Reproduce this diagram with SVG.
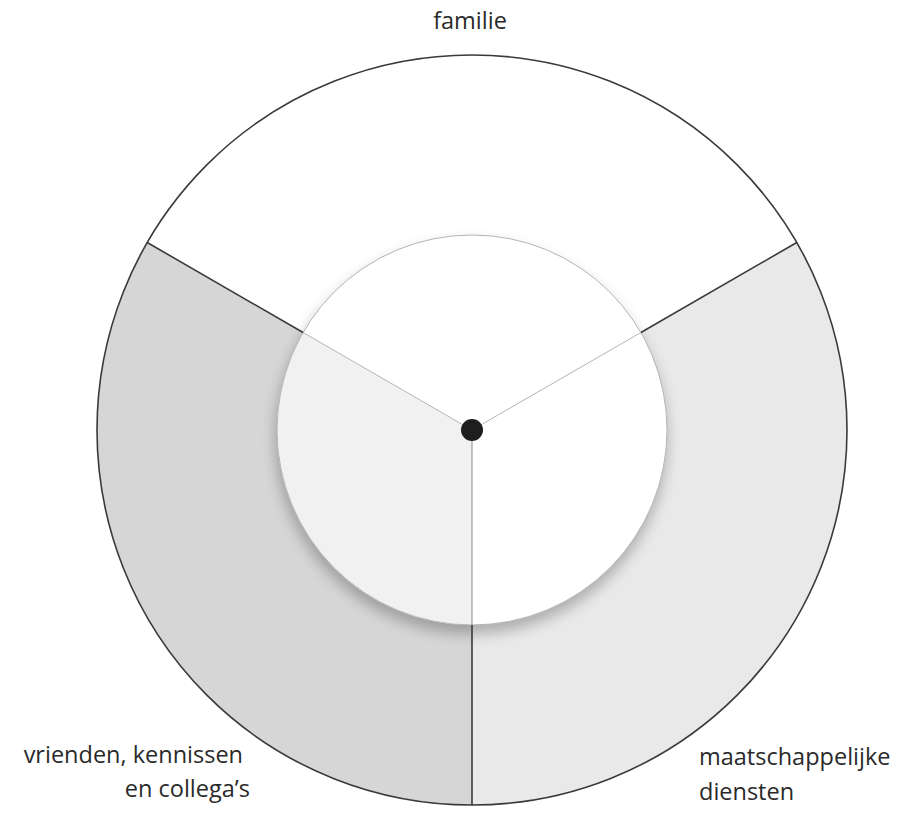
<svg xmlns="http://www.w3.org/2000/svg" width="903" height="820" viewBox="0 0 903 820">
<defs>
<filter id="sh" x="-20%" y="-20%" width="140%" height="140%"><feGaussianBlur stdDeviation="7"/></filter>
<style>
.lbl{font-family:"Open Sans","Noto Sans","Liberation Sans",sans-serif;font-size:23.5px;fill:#2a2a2a}
.ring{stroke:none}
.div{stroke:#3a3a3a;stroke-width:1.6;fill:none}
.inn{stroke:#b5b5b5;stroke-width:1;fill:none}
</style>
</defs>
<rect width="903" height="820" fill="#fff"/>
<g id="sector-familie">
<path class="ring" fill="#ffffff" d="M147.2,242.5 A375,375 0 0 1 796.8,242.5 L640.9,332.5 A195,195 0 0 0 303.1,332.5 Z"/>
<text class="lbl" x="470" y="29" text-anchor="middle">familie</text>
</g>
<g id="sector-vrienden">
<path class="ring" fill="#d6d6d6" d="M472,805 A375,375 0 0 1 147.2,242.5 L303.1,332.5 A195,195 0 0 0 472,625 Z"/>
<text class="lbl" x="243" y="763" text-anchor="end">vrienden, kennissen</text>
<text class="lbl" x="250" y="797" text-anchor="end">en collega’s</text>
</g>
<g id="sector-diensten">
<path class="ring" fill="#e9e9e9" d="M796.8,242.5 A375,375 0 0 1 472,805 L472,625 A195,195 0 0 0 640.9,332.5 Z"/>
<text class="lbl" x="699" y="765">maatschappelijke</text>
<text class="lbl" x="699" y="800">diensten</text>
</g>
<g id="inner-circle">
<circle cx="471" cy="438" r="196" fill="#000" opacity="0.25" filter="url(#sh)"/>
<circle cx="472" cy="430" r="195" fill="#fff"/>
<path fill="#f1f1f1" d="M472,430 L303.1,332.5 A195,195 0 0 0 472,625 Z"/>
<circle class="inn" cx="472" cy="430" r="195"/>
</g>
<g id="connectors">
<circle cx="472" cy="430" r="375" fill="none" stroke="#3a3a3a" stroke-width="1.6"/>
<line class="div" x1="147.2" y1="242.5" x2="303.1" y2="332.5"/>
<line class="div" x1="796.8" y1="242.5" x2="640.9" y2="332.5"/>
<line class="div" x1="472" y1="805" x2="472" y2="625"/>
<line class="inn" x1="472" y1="430" x2="303.1" y2="332.5"/>
<line class="inn" x1="472" y1="430" x2="640.9" y2="332.5"/>
<line x1="472" y1="430" x2="472" y2="625" stroke="#888" stroke-width="1"/>
</g>
<g id="center">
<circle cx="472" cy="430" r="11" fill="#1e1e1e"/>
</g>
</svg>
